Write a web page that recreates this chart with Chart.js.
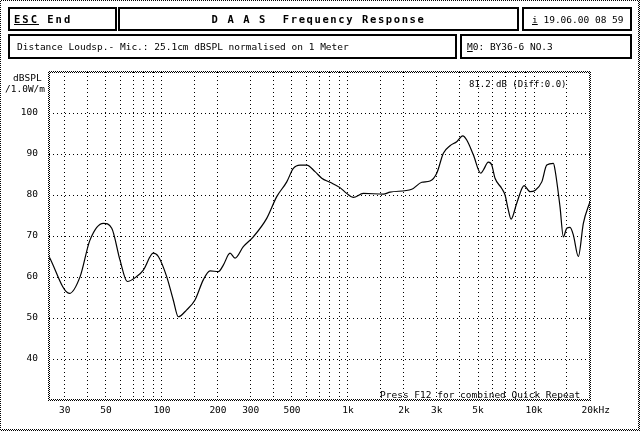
<!DOCTYPE html>
<html>
<head>
<meta charset="utf-8">
<script src="https://cdn.jsdelivr.net/npm/chart.js"></script>
<style>
  html, body { margin: 0; padding: 0; background: #fff; }
  #frame { position: absolute; left: 0; top: 0; width: 640px; height: 431px;
    background: repeating-conic-gradient(#000 0 25%, #fff 0 50%) 0 0 / 2px 2px; }
  #inner { position: absolute; left: 1px; top: 1px; width: 637px; height: 428px; background: #fff; }
  #chart { position: absolute; left: 0; top: 0; z-index: 1; }
  .box { position: absolute; border: 2px solid #000; box-sizing: border-box; display: flex; align-items: center;
    font: 9.5px "DejaVu Sans Mono", monospace; color: #000; white-space: pre; z-index: 2; }
  .txt { position: absolute; font: 9.5px "DejaVu Sans Mono", monospace; color: #000; white-space: pre;
    line-height: 11px; z-index: 2; }
  b { font-size: 10.5px; letter-spacing: 2px; }
</style>
</head>
<body>
<div id="frame"><div id="inner"></div></div>

<div class="box" style="left:8px;top:7px;width:109px;height:24px;padding-left:4px"><b><u>ESC</u> End</b></div>
<div class="box" style="left:118px;top:7px;width:401px;height:24px;justify-content:center"><b style="letter-spacing:1.6px">D A A S  Frequency Response</b></div>
<div class="box" style="left:522px;top:7px;width:110px;height:24px;padding-left:8px"><span><u>i</u> 19.06.00 08 59</span></div>
<div class="box" style="left:8px;top:34px;width:449px;height:25px;padding-left:7px">Distance Loudsp.- Mic.: 25.1cm dBSPL normalised on 1 Meter</div>
<div class="box" style="left:460px;top:34px;width:172px;height:25px;padding-left:5px"><span><u>M</u>0: BY36-6 NO.3</span></div>

<div class="txt" style="left:13px;top:72px">dBSPL</div>
<div class="txt" style="left:5px;top:83px">/1.0W/m</div>
<div class="txt" style="left:469px;top:79px;font-size:9px">81.2 dB (Diff:0.0)</div>
<div class="txt" style="left:380px;top:389px">Press F12 for combined Quick Repeat</div>

<canvas id="chart" width="640" height="431"></canvas>

<script>
// frequency response
const freqs = [24.7, 31.8, 36.3, 41.0, 48.4, 53.7, 59.5, 65.1, 73.1, 79.4, 89.8, 95.6,
  106, 115, 122.4, 135.8, 150.5, 166.8, 181.3, 200.9, 213.7, 232.2, 247, 273.7, 309.8,
  365.7, 414, 468.6, 508.3, 552.5, 600, 665, 722.5, 800.8, 906, 984, 1068, 1209, 1549,
  1683, 2201, 2492, 2761, 3000, 3256, 3537, 3842, 4140, 4349, 4720, 5173, 5342, 5682,
  5927, 6173, 6708, 6987, 7280, 7527, 8076, 8842, 9522, 10130, 11010, 11710, 12710,
  12975, 13800, 14380, 15000, 15620, 16280, 17310, 18420, 20000];
const spl = [65, 56, 60.1, 69, 73.1, 71.9, 64.1, 58.9, 60.1, 61.7, 65.8, 65,
  60.1, 54.4, 50.3, 52, 54.4, 59.3, 61.5, 61.3, 62.9, 65.8, 64.6, 67.4, 69.8,
  74.3, 79.6, 83.2, 86.5, 87.3, 87.3, 85.7, 84.1, 83.1, 81.8, 80.4, 79.4, 80.4, 80.2,
  80.7, 81.4, 83.1, 83.4, 85.3, 90.2, 92, 93, 94.4, 93.4, 89.8, 85.3, 86.1, 88,
  87.3, 84.1, 81.6, 80, 76.3, 74.1, 78, 82.3, 80.8, 81.1, 83.2, 87.3, 87.7,
  86.1, 77.1, 69.8, 71.9, 72.1, 70.2, 65, 73.1, 78.4];

const gridFreqs = [30, 40, 50, 60, 70, 80, 90, 100, 150, 200, 300, 400, 500, 600, 700, 800, 900,
  1000, 1500, 2000, 3000, 4000, 5000, 6000, 7000, 8000, 9000, 10000, 15000, 20000];
const freqLabels = { 30: '30', 50: '50', 100: '100', 200: '200', 300: '300', 500: '500',
  1000: '1k', 2000: '2k', 3000: '3k', 5000: '5k', 10000: '10k', 20000: '  20kHz' };
const splTicks = [40, 50, 60, 70, 80, 90, 100];

const font = { family: 'DejaVu Sans Mono', size: 9.5 };

// dithered frame round the plot
const checker = document.createElement('canvas');
checker.width = 2; checker.height = 2;
const cc = checker.getContext('2d');
cc.fillStyle = '#000';
cc.fillRect(0, 0, 1, 1);
cc.fillRect(1, 1, 1, 1);

const plotFrame = {
  id: 'plotFrame',
  afterDraw(chart) {
    const { ctx, chartArea: a } = chart;
    ctx.save();
    ctx.fillStyle = ctx.createPattern(checker, 'repeat');
    ctx.fillRect(a.left - 1, a.top - 1, a.right - a.left + 2, 2);
    ctx.fillRect(a.left - 1, a.bottom - 1, a.right - a.left + 2, 2);
    ctx.fillRect(a.left - 1, a.top - 1, 2, a.bottom - a.top + 2);
    ctx.fillRect(a.right - 1, a.top - 1, 2, a.bottom - a.top + 2);
    ctx.restore();
  }
};

new Chart(document.getElementById('chart'), {
  type: 'line',
  data: {
    datasets: [{
      data: freqs.map((f, i) => ({ x: f, y: spl[i] })),
      borderColor: '#000',
      borderWidth: 1.2,
      pointRadius: 0,
      cubicInterpolationMode: 'monotone'
    }]
  },
  options: {
    responsive: false,
    animation: false,
    layout: { padding: { left: 0, top: 72, right: 50, bottom: 10 } },
    plugins: { legend: { display: false }, tooltip: { enabled: false } },
    scales: {
      x: {
        type: 'logarithmic',
        min: 24.7,
        max: 20000,
        afterBuildTicks: s => { s.ticks = gridFreqs.map(v => ({ value: v })); },
        afterFit: s => { s.height = 21; },
        ticks: {
          autoSkip: false, maxRotation: 0, padding: 5, color: '#000', font: font,
          callback: v => freqLabels[v] || ''
        },
        grid: { color: '#000', lineWidth: 1, drawTicks: false },
        border: { display: false, dash: [1, 3] }
      },
      y: {
        min: 30,
        max: 110,
        afterBuildTicks: s => { s.ticks = splTicks.map(v => ({ value: v })); },
        afterFit: s => { s.width = 49; },
        ticks: { padding: 11, color: '#000', font: font },
        grid: { color: '#000', lineWidth: 1, drawTicks: false },
        border: { display: false, dash: [1, 3] }
      }
    }
  },
  plugins: [plotFrame]
});
</script>
</body>
</html>
